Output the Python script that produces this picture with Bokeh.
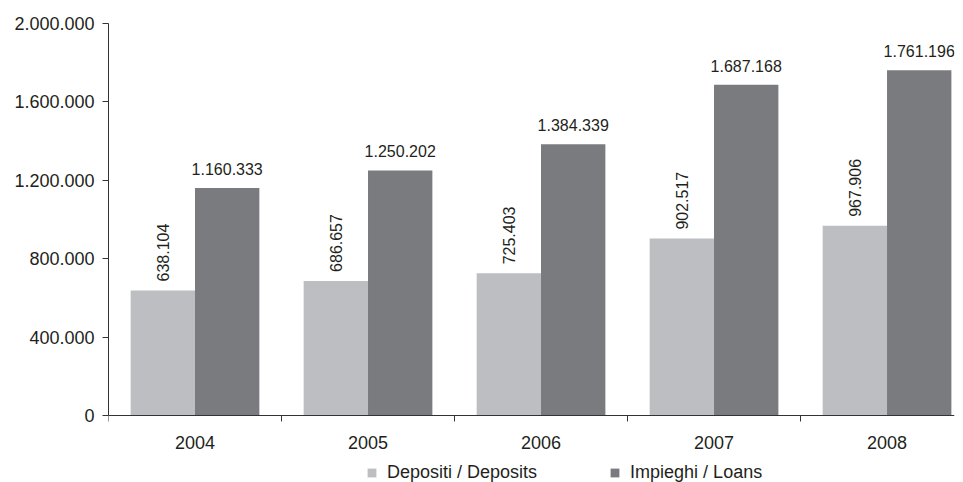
import math
from bokeh.plotting import figure
from bokeh.models import (ColumnDataSource, Range1d, FixedTicker, Legend, LegendItem)
from bokeh.transform import dodge
from bokeh.core.properties import value
from bokeh.embed import file_html
from bokeh.resources import INLINE

# ---- data ----
years = ["2004", "2005", "2006", "2007", "2008"]
depositi = [638104, 686657, 725403, 902517, 967906]
impieghi = [1160333, 1250202, 1384339, 1687168, 1761196]
y_ticks = [0, 400000, 800000, 1200000, 1600000, 2000000]
series_names = ["Depositi / Deposits", "Impieghi / Loans"]


def it_fmt(v):
    return f"{v:,}".replace(",", ".")


LIGHT = "#bdbec2"
DARK = "#7a7b7f"
TXT = "#231f20"
FONT = "Liberation Sans"

centers = [i + 0.5 for i in range(len(years))]
bounds = [float(i) for i in range(len(years) + 1)]

src = ColumnDataSource(dict(
    x=centers,
    dep=depositi,
    imp=impieghi,
    dep_lbl=[it_fmt(v) for v in depositi],
    imp_lbl=[it_fmt(v) for v in impieghi],
))

BW = 0.372
OFF = BW / 2

# layout: plot area from y=23 (2.000.000) to y=415 (0); space below for axis + legend
Y_MAX = y_ticks[-1]
TOP_PX, ZERO_PX, H = 23, 415, 482
y_start = -Y_MAX * (H - ZERO_PX) / (ZERO_PX - TOP_PX)

p = figure(width=963, height=H, output_backend="svg", toolbar_location=None,
           x_range=Range1d(0, 4.89), y_range=Range1d(y_start, Y_MAX),
           min_border_left=108, min_border_right=9, min_border_top=TOP_PX,
           min_border_bottom=0)
p.outline_line_color = None
p.xgrid.visible = False
p.ygrid.visible = False

r_dep = p.vbar(x=dodge("x", -OFF), top="dep", bottom=0, width=BW, source=src,
               fill_color=LIGHT, line_color=None)
r_imp = p.vbar(x=dodge("x", OFF), top="imp", bottom=0, width=BW, source=src,
               fill_color=DARK, line_color=None)

p.text(x=dodge("x", -OFF), y="dep", text="dep_lbl", source=src,
       angle=math.pi / 2, text_align="left", text_baseline="middle",
       y_offset=-9, text_font=value(FONT), text_font_size="16px",
       text_color=TXT)
p.text(x=dodge("x", OFF), y="imp", text="imp_lbl", source=src,
       text_align="center", text_baseline="alphabetic",
       y_offset=-19, text_font=value(FONT), text_font_size="16px",
       text_color=TXT)

# y axis
ya = p.yaxis[0]
ya.bounds = (0, Y_MAX)
ya.ticker = FixedTicker(ticks=y_ticks, minor_ticks=[])
ya.major_label_overrides = {v: it_fmt(v) for v in y_ticks}
ya.major_tick_out = 6
ya.major_tick_in = 0
ya.minor_tick_line_color = None
ya.major_label_standoff = 8
ya.axis_line_color = "#333333"
ya.major_tick_line_color = "#333333"
ya.major_label_text_font = FONT
ya.major_label_text_font_size = "18px"
ya.major_label_text_color = TXT

# x axis, drawn at y = 0
xa = p.xaxis[0]
xa.fixed_location = 0
xa.ticker = FixedTicker(ticks=centers, minor_ticks=bounds)
xa.major_label_overrides = {c: y for c, y in zip(centers, years)}
xa.major_tick_line_color = None
xa.major_tick_out = 6
xa.major_tick_in = 0
xa.minor_tick_out = 6
xa.minor_tick_in = 0
xa.minor_tick_line_color = "#333333"
xa.axis_line_color = "#333333"
xa.major_label_standoff = 14
xa.major_label_text_font = FONT
xa.major_label_text_font_size = "18px"
xa.major_label_text_color = TXT

legend = Legend(items=[LegendItem(label=series_names[0], renderers=[r_dep]),
                       LegendItem(label=series_names[1], renderers=[r_imp])],
                location=(258, -1), orientation="horizontal",
                glyph_width=11, glyph_height=11, label_standoff=10,
                spacing=72, padding=0, margin=0,
                border_line_color=None, background_fill_alpha=0,
                label_text_font=FONT, label_text_font_size="18px",
                label_text_color=TXT)
p.add_layout(legend, "center")

open("out.html", "w").write(file_html(p, INLINE))
